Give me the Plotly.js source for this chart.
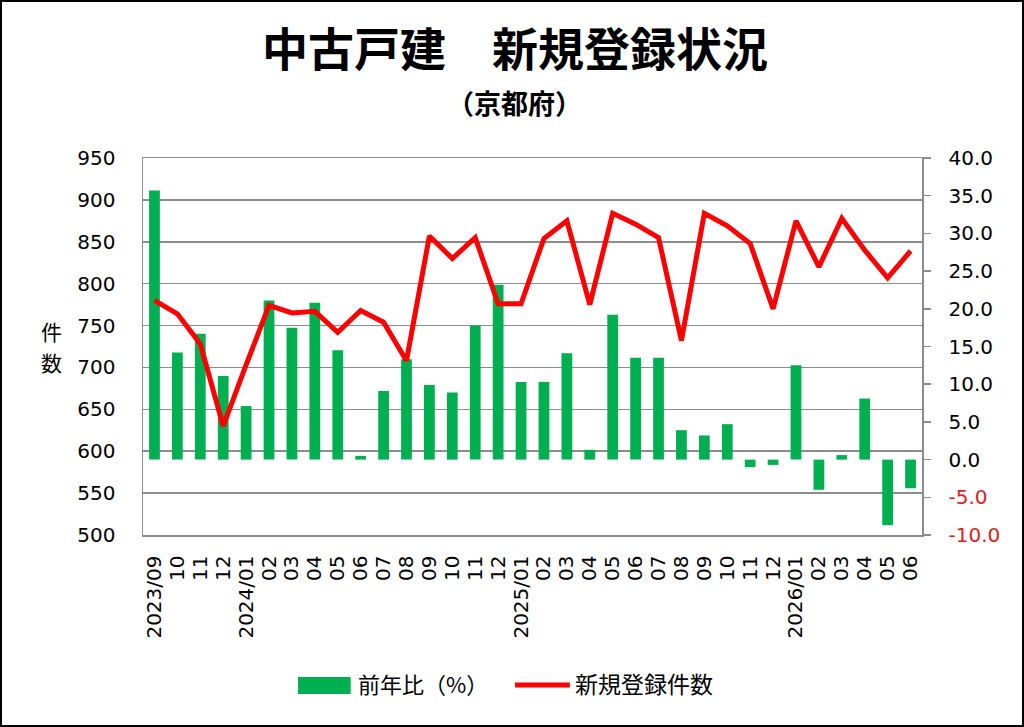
<!DOCTYPE html>
<html>
<head>
<meta charset="utf-8">
<script src="https://cdn.plot.ly/plotly-3.0.1.min.js"></script>
<style>
  html, body { margin: 0; padding: 0; background: #fff; }
  #wrap { position: relative; width: 1024px; height: 727px; }
  #frame { position: absolute; left: 0; top: 0; width: 1024px; height: 727px;
           box-sizing: border-box; border: 2px solid #000; pointer-events: none; }
</style>
</head>
<body>
<div id="wrap">
  <div id="chart"></div>
  <div id="frame"></div>
</div>
<script>
// months 2023/09 .. 2026/06
var months = ['2023/09', '10', '11', '12',
  '2024/01', '02', '03', '04', '05', '06', '07', '08', '09', '10', '11', '12',
  '2025/01', '02', '03', '04', '05', '06', '07', '08', '09', '10', '11', '12',
  '2026/01', '02', '03', '04', '05', '06'];

// 新規登録件数 (left axis)
var newListings = [780, 764, 728, 630, 703, 774, 765, 767, 742, 768, 754, 708,
  857, 830, 855, 776, 776, 854, 875, 775, 884, 871, 855, 732,
  884, 869, 848, 770, 875, 820, 878, 840, 807, 839];

// 前年比(%) (right axis)
var yoyPct = [35.7, 14.2, 16.7, 11.1, 7.1, 21.1, 17.5, 20.8, 14.5, 0.5, 9.1, 13.3,
  9.9, 8.9, 17.8, 23.2, 10.3, 10.3, 14.1, 1.3, 19.2, 13.5, 13.5, 3.9,
  3.2, 4.7, -1.0, -0.7, 12.5, -4.0, 0.6, 8.1, -8.7, -3.8];

var rightTicks = [40, 35, 30, 25, 20, 15, 10, 5, 0, -5, -10];

var barName = '前年比（%）';
var lineName = '新規登録件数';

// x positions as indices so repeated month labels stay distinct
var idx = months.map(function (m, i) { return i; });

var rightText = rightTicks.map(function (v) {
  var s = v.toFixed(1);
  return v < 0 ? '<span style="color:#E0201B">' + s + '</span>' : s;
});

var GREEN = '#00B050';
var RED = '#FF0000';
var GRID = '#8c8c8c';
var JP = '"Noto Sans CJK JP", "Noto Sans", sans-serif';
var NUM = '"DejaVu Sans", Verdana, sans-serif';

var traces = [
  {
    type: 'bar',
    name: barName,
    x: idx,
    y: yoyPct,
    yaxis: 'y',
    marker: { color: GREEN },
    hoverinfo: 'skip'
  },
  {
    type: 'scatter',
    mode: 'lines',
    name: lineName,
    x: idx,
    y: newListings,
    yaxis: 'y2',
    line: { color: RED, width: 5 },
    hoverinfo: 'skip'
  }
];

// legend drawn by hand so the swatches can be wide like the original
var legendShapes = [
  { type: 'rect', xref: 'paper', yref: 'paper',
    x0: 0.199, x1: 0.2666, y0: -0.4218, y1: -0.3767,
    fillcolor: GREEN, line: { width: 0 } },
  { type: 'line', xref: 'paper', yref: 'paper',
    x0: 0.4775, x1: 0.548, y0: -0.3979, y1: -0.3979,
    line: { color: RED, width: 5 } }
];

var layout = {
  width: 1024,
  height: 727,
  margin: { l: 143, r: 102, t: 158, b: 192 },
  paper_bgcolor: '#ffffff',
  plot_bgcolor: '#ffffff',
  showlegend: false,
  bargap: 0.53,
  font: { family: JP, color: '#000' },
  xaxis: {
    type: 'linear',
    range: [-0.5, months.length - 0.5],
    tickmode: 'array',
    tickvals: idx,
    ticktext: months,
    tickangle: -90,
    ticks: '',
    ticklabelstandoff: 11,
    showgrid: false,
    zeroline: false,
    showline: true,
    mirror: true,
    linecolor: GRID,
    linewidth: 1.5,
    tickfont: { family: NUM, size: 20, color: '#000' }
  },
  // right axis: year-on-year %
  yaxis: {
    side: 'right',
    range: [-10, 40],
    tickmode: 'array',
    tickvals: rightTicks,
    ticktext: rightText,
    ticks: 'outside',
    ticklen: 7,
    tickcolor: GRID,
    tickwidth: 1.5,
    ticklabelstandoff: 14,
    showgrid: false,
    zeroline: false,
    showline: true,
    linecolor: GRID,
    linewidth: 1.5,
    tickfont: { family: NUM, size: 20, color: '#000' }
  },
  // left axis: listing count
  yaxis2: {
    overlaying: 'y',
    side: 'left',
    range: [500, 950],
    dtick: 50,
    tick0: 500,
    ticks: '',
    ticklabelstandoff: 22,
    showgrid: true,
    gridcolor: GRID,
    gridwidth: 1.5,
    zeroline: false,
    showline: true,
    linecolor: GRID,
    linewidth: 1.5,
    tickfont: { family: NUM, size: 20, color: '#000' }
  },
  shapes: legendShapes,
  annotations: [
    {
      text: '<b>中古戸建　新規登録状況</b>',
      xref: 'paper', yref: 'paper',
      x: 0.4775, y: 1.297,
      xanchor: 'center', yanchor: 'middle',
      showarrow: false,
      font: { family: JP, size: 46, color: '#000' }
    },
    {
      text: '<b>（京都府）</b>',
      xref: 'paper', yref: 'paper',
      x: 0.4775, y: 1.146,
      xanchor: 'center', yanchor: 'middle',
      showarrow: false,
      font: { family: JP, size: 27, color: '#000' }
    },
    {
      text: '件',
      xref: 'paper', yref: 'paper',
      x: -0.1172, y: 0.5398,
      xanchor: 'center', yanchor: 'middle',
      showarrow: false,
      borderpad: 0,
      font: { family: JP, size: 21, color: '#000' }
    },
    {
      text: '数',
      xref: 'paper', yref: 'paper',
      x: -0.1172, y: 0.4576,
      xanchor: 'center', yanchor: 'middle',
      showarrow: false,
      borderpad: 0,
      font: { family: JP, size: 21, color: '#000' }
    },
    {
      text: barName,
      xref: 'paper', yref: 'paper',
      x: 0.2734, y: -0.3926,
      xanchor: 'left', yanchor: 'middle',
      showarrow: false,
      font: { family: JP, size: 22, color: '#000' }
    },
    {
      text: lineName,
      xref: 'paper', yref: 'paper',
      x: 0.552, y: -0.3926,
      xanchor: 'left', yanchor: 'middle',
      showarrow: false,
      font: { family: JP, size: 23, color: '#000' }
    }
  ]
};

Plotly.newPlot('chart', traces, layout, { displayModeBar: false, staticPlot: true });
</script>
</body>
</html>
